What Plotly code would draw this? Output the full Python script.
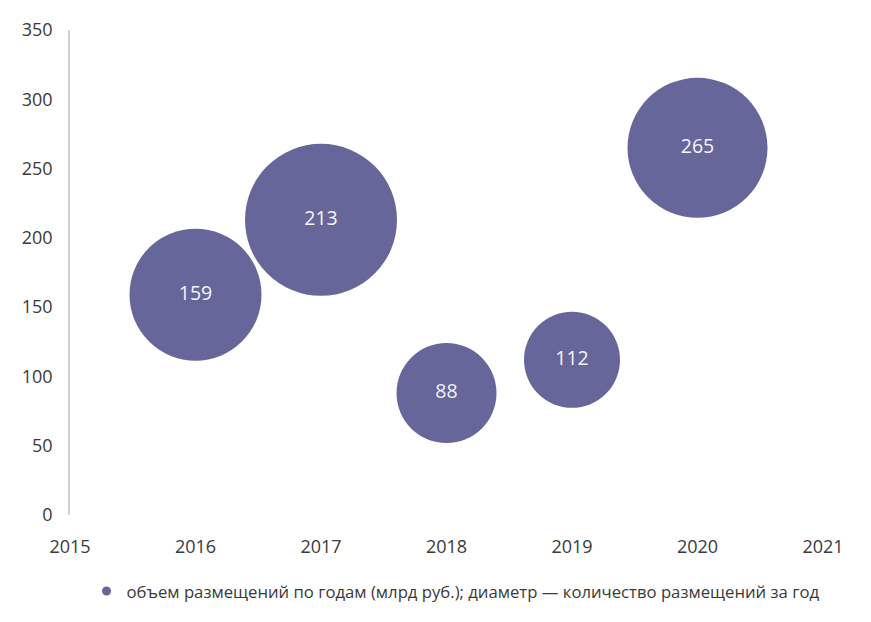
import plotly.graph_objects as go

years = [2016, 2017, 2018, 2019, 2020]
volumes = [159, 213, 88, 112, 265]          # объем размещений, млрд руб.
counts = [33, 38, 25, 24, 35]               # количество размещений (diameter), estimated
x_ticks = [2015, 2016, 2017, 2018, 2019, 2020, 2021]
y_ticks = [0, 50, 100, 150, 200, 250, 300, 350]
legend_label = "объем размещений по годам (млрд руб.); диаметр — количество размещений за год"

FONT = "Open Sans, Noto Sans, sans-serif"
COLOR = "#67669a"

fig = go.Figure()
fig.add_trace(go.Scatter(
    x=years, y=volumes, mode="markers+text",
    text=[str(v) for v in volumes], textposition="middle center",
    textfont=dict(family=FONT, size=19.5, color="#f4f4f8"),
    marker=dict(size=counts, sizemode="diameter", sizeref=0.25, color=COLOR,
                line=dict(width=0), opacity=1),
    name=legend_label, showlegend=False,
    cliponaxis=False,
))
# legend entry (small marker, as in the reference)
fig.add_trace(go.Scatter(
    x=[None], y=[None], mode="markers",
    marker=dict(size=9, color=COLOR),
    name=legend_label, showlegend=True,
))

fig.update_layout(
    width=871, height=622,
    margin=dict(l=70, r=48, t=30, b=107),
    paper_bgcolor="white", plot_bgcolor="white",
    font=dict(family=FONT, size=14, color="#3a3a3a"),
    showlegend=True,
    legend=dict(orientation="h", x=0.512, xanchor="center", y=-0.157, yanchor="middle",
                itemsizing="trace", font=dict(size=16.7, color="#3a3a3a"),
                itemwidth=30),
)
fig.update_xaxes(range=[2015, 2021], tickvals=x_ticks, ticktext=[str(t) for t in x_ticks],
                 showgrid=False, zeroline=False, showline=False, ticks="",
                 ticklabelstandoff=19, tickfont=dict(size=18))
fig.update_yaxes(range=[0, 350], tickvals=y_ticks, showgrid=False, zeroline=False,
                 showline=True, linecolor="#d0d0d0", linewidth=1.5, ticks="",
                 ticklabelstandoff=12, tickfont=dict(size=18))

fig.write_html("out.html")
